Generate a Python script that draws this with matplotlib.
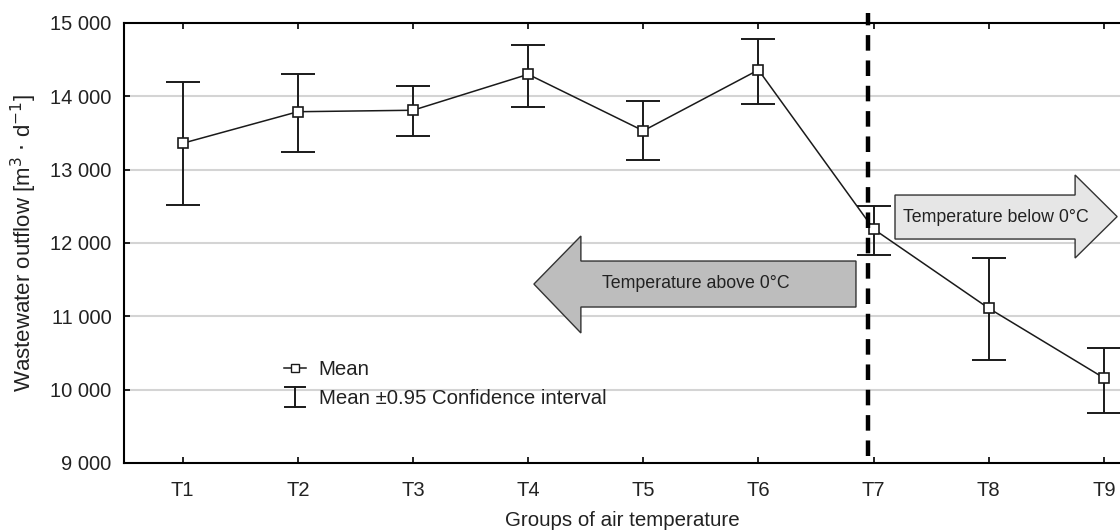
import numpy as np
import matplotlib
matplotlib.use('Agg')
import matplotlib.pyplot as plt
from matplotlib.patches import Polygon
from matplotlib.lines import Line2D
from matplotlib.legend_handler import HandlerBase
from matplotlib.ticker import FuncFormatter

plt.rcParams['font.family'] = ['Liberation Sans', 'DejaVu Sans']

groups = ['T1', 'T2', 'T3', 'T4', 'T5', 'T6', 'T7', 'T8', 'T9']
mean_flow = [13360, 13790, 13810, 14300, 13530, 14360, 12190, 11110, 10160]
ci_upper = [14195, 14304, 14145, 14700, 13936, 14785, 12505, 11795, 10570]
ci_lower = [12517, 13240, 13455, 13855, 13132, 13895, 11836, 10404, 9682]
split_pos = 6.95  # boundary between T6 and T7 groups

txt = '#222222'
ink = '#1a1a1a'
x = np.arange(1, len(groups) + 1)
mean_arr = np.array(mean_flow)
yerr = [mean_arr - np.array(ci_lower), np.array(ci_upper) - mean_arr]


class IBeamHandler(HandlerBase):
    # draws the "I" symbol used for the confidence interval entry
    def create_artists(self, legend, orig_handle, xdescent, ydescent,
                       width, height, fontsize, trans):
        cx = width / 2 - xdescent
        y0, y1 = -ydescent - height * 0.25, height * 1.15 - ydescent
        hw = width * 0.45
        lines = [
            Line2D([cx, cx], [y0, y1], color=ink, lw=1.4),
            Line2D([cx - hw, cx + hw], [y0, y0], color=ink, lw=1.4),
            Line2D([cx - hw, cx + hw], [y1, y1], color=ink, lw=1.4),
        ]
        for ln in lines:
            ln.set_transform(trans)
        return lines


fig = plt.figure(figsize=(11.2, 5.32), dpi=100)
ax = fig.add_axes([0.1107, 0.1297, 0.8893, 0.8271])

# grid
for g in range(10000, 15000, 1000):
    ax.axhline(g, color='#d4d4d4', lw=1.5, zorder=0)

# error bars + means
ax.errorbar(x, mean_arr, yerr=yerr, fmt='none', ecolor=ink, elinewidth=1.4,
            capsize=12, capthick=1.4, zorder=3)
ax.plot(x, mean_arr, color=ink, lw=1.1, zorder=4)
ax.plot(x, mean_arr, ls='none', marker='s', ms=7.5, mfc='white', mec=ink,
        mew=1.2, zorder=5)

# dashed boundary line
ax.plot([split_pos, split_pos], [9100, 15130], color='black', lw=3.2,
        ls=(0, (3.5, 2.2)), clip_on=False, zorder=6)

# arrows
right_arrow = Polygon([(7.186, 12654), (8.75, 12654), (8.75, 12927), (9.115, 12360),
                       (8.75, 11795), (8.75, 12054), (7.186, 12054)],
                      closed=True, fc='#e6e6e6', ec='#333333', lw=1.0, zorder=2)
left_arrow = Polygon([(6.847, 11754), (4.458, 11754), (4.458, 12095), (4.05, 11440),
                      (4.458, 10773), (4.458, 11127), (6.847, 11127)],
                     closed=True, fc='#bdbdbd', ec='#333333', lw=1.0, zorder=2)
ax.add_patch(right_arrow)
ax.add_patch(left_arrow)
ax.text(8.06, 12345, 'Temperature below 0\u00b0C', ha='center', va='center',
        fontsize=12.8, color=txt, zorder=7)
ax.text(5.46, 11450, 'Temperature above 0\u00b0C', ha='center', va='center',
        fontsize=12.8, color=txt, zorder=7)

# axes setup
ax.set_xlim(0.49, 9.14)
ax.set_ylim(9000, 15000)
ax.set_xticks(x)
ax.set_xticklabels(groups)
ax.set_yticks(range(9000, 15001, 1000))
ax.yaxis.set_major_formatter(FuncFormatter(lambda v, p: f'{int(v):,}'.replace(',', ' ')))
ax.tick_params(axis='both', direction='in', length=4, width=1.2, labelsize=14.5,
               labelcolor=txt, top=True)
ax.tick_params(axis='x', pad=13)
ax.tick_params(axis='y', pad=9)
ax.spines['right'].set_visible(False)
for s in ['left', 'top', 'bottom']:
    ax.spines[s].set_linewidth(1.5)

ax.set_xlabel('Groups of air temperature', fontsize=14.8, color=txt, labelpad=8)
ax.set_ylabel('Wastewater outflow [m$^3$ $\\cdot$ d$^{-1}$]', fontsize=16,
              color=txt, labelpad=8)

# legend
h_mean = Line2D([], [], color=ink, lw=1.1, marker='s', ms=6, mfc='white', mec=ink)
h_ci = Line2D([], [])
ax.legend([h_mean, h_ci], ['Mean', 'Mean \u00b10.95 Confidence interval'],
          handler_map={h_ci: IBeamHandler()},
          loc='upper left', bbox_to_anchor=(0.142, 0.275), frameon=False,
          fontsize=14.7, handlelength=1.1, handletextpad=0.6, labelspacing=0.45,
          labelcolor=txt)

fig.savefig('out.png', dpi=100)
